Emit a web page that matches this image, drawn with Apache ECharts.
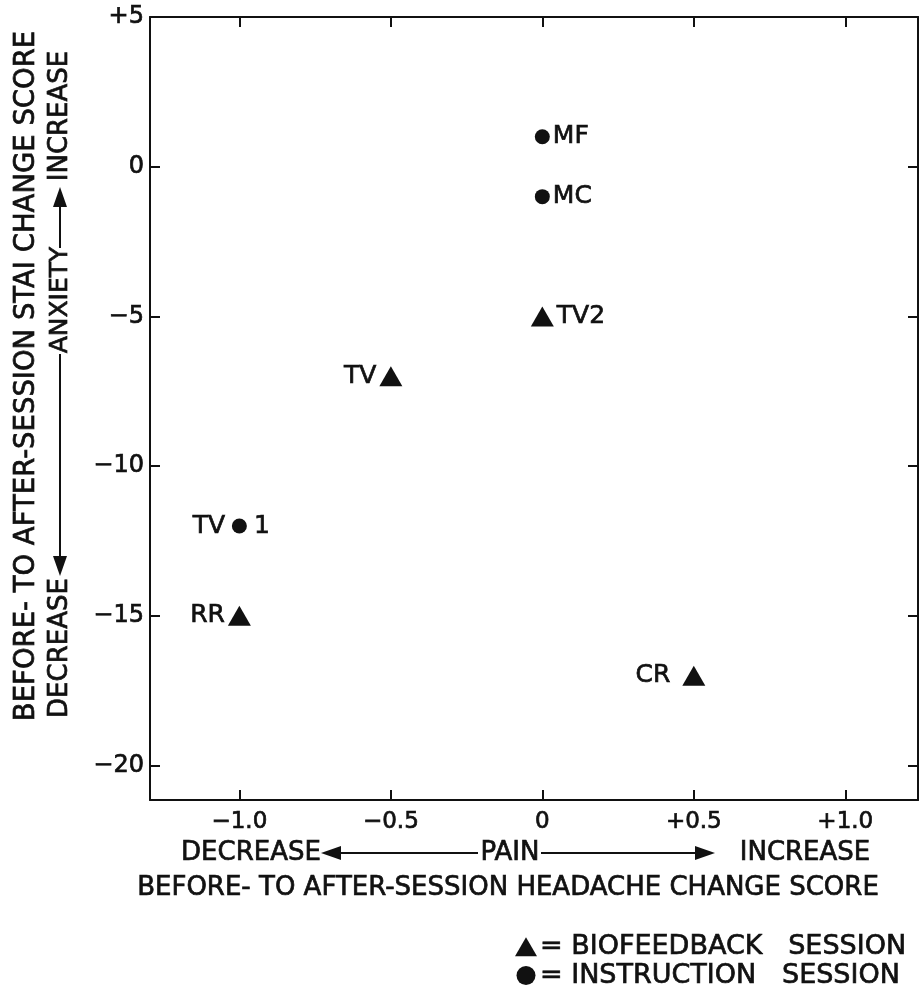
<!DOCTYPE html>
<html>
<head>
<meta charset="utf-8">
<script src="https://cdn.jsdelivr.net/npm/echarts@6/dist/echarts.min.js"></script>
<style>
html,body{margin:0;padding:0;background:#fff;}
#chart{width:922px;height:995px;}
</style>
</head>
<body>
<div id="chart"></div>
<script>
// ---- data ----
const xTickValues = [-1, -0.5, 0, 0.5, 1];
const xTickLabels = ['\u22121.0', '\u22120.5', '0', '+0.5', '+1.0'];
const yTickValues = [5, 0, -5, -10, -15, -20];
const yTickLabels = ['+5', '0', '\u22125', '\u221210', '\u221215', '\u221220'];

const biofeedbackNames = ['TV2', 'TV', 'RR', 'CR'];
const biofeedbackPain = [0, -0.5, -1, 0.5];
const biofeedbackAnxiety = [-5, -7, -15, -17];

const instructionNames = ['MF', 'MC', 'TV1'];
const instructionPain = [0, 0, -1];
const instructionAnxiety = [1, -1, -12];

// ---- styling ----
const FONT = 'DejaVu Sans';
const INK = '#111';
const BW = 0.7; // text thickening
const labelPos = {TV2: 'right', TV: 'left', RR: 'left', CR: 'left', MF: 'right', MC: 'right'};
const baseLabel = {fontFamily: FONT, fontSize: 25, color: INK, textBorderColor: INK, textBorderWidth: BW};

function pointLabel(name) {
  if (name === 'TV1') {
    return Object.assign({}, baseLabel, {show: true, position: 'inside', formatter: '{a|TV}{g|}{b|1}', offset: [-8, 0],
      rich: {a: baseLabel, g: {width: 29}, b: baseLabel}});
  }
  const p = labelPos[name];
  return Object.assign({}, baseLabel, {show: true, position: p, distance: name === 'CR' ? 12 : 3, formatter: name});
}

function buildData(names, xs, ys) {
  return names.map((n, i) => ({name: n, value: [xs[i], ys[i]], label: pointLabel(n)}));
}

function fmt(values, labels) {
  return v => { const i = values.findIndex(t => Math.abs(t - v) < 1e-9); return i >= 0 ? labels[i] : ''; };
}

const axisLineStyle = {color: INK, width: 2};
const chart = echarts.init(document.getElementById('chart'), null, {renderer: 'canvas'});

const g = [];
function txt(x, y, s, size, rot) {
  g.push({type: 'text', x: x, y: y, rotation: rot || 0,
    style: {text: s, font: size + 'px "' + FONT + '"', fill: INK, stroke: INK, lineWidth: BW, align: 'center', verticalAlign: 'middle'}});
}
function line(x1, y1, x2, y2) {
  g.push({type: 'line', shape: {x1, y1, x2, y2}, style: {stroke: INK, lineWidth: 2}});
}
function head(pts) {
  g.push({type: 'polygon', shape: {points: pts}, style: {fill: INK}});
}
// y-axis titles (rotated, reading bottom to top)
txt(27, 376, 'BEFORE- TO AFTER-SESSION STAI CHANGE SCORE', 27.5, Math.PI / 2);
txt(60, 116, 'INCREASE', 26, Math.PI / 2);
txt(60, 300, 'ANXIETY', 25, Math.PI / 2);
txt(60, 648, 'DECREASE', 26, Math.PI / 2);
line(60, 205, 60, 248);
head([[60, 187], [53, 207], [67, 207]]);
line(60, 354, 60, 558);
head([[60, 576], [53, 556], [67, 556]]);
// x-axis titles
txt(251, 853, 'DECREASE', 26);
line(336, 853, 478, 853);
head([[321, 853], [341, 846], [341, 860]]);
txt(510, 853, 'PAIN', 26);
line(541, 853, 700, 853);
head([[715, 853], [695, 846], [695, 860]]);
txt(805, 853, 'INCREASE', 26);
txt(508, 888, 'BEFORE- TO AFTER-SESSION HEADACHE CHANGE SCORE', 26);

const tickLabel = {fontFamily: FONT, color: INK, textBorderColor: INK, textBorderWidth: BW};

const option = {
  backgroundColor: '#fff',
  animation: false,
  textStyle: {fontFamily: FONT, color: INK},
  grid: {left: 150, top: 17, right: 4, bottom: 195, containLabel: false},
  legend: {
    orient: 'vertical', left: 515, top: 933, height: 62, padding: 0, itemGap: 1, itemWidth: 22, itemHeight: 19,
    textStyle: {fontFamily: FONT, fontSize: 27, color: INK, textBorderColor: INK, textBorderWidth: BW, padding: [0, 0, 0, -2]},
    data: [
      {name: 'BIOFEEDBACK SESSION', icon: 'triangle'},
      {name: 'INSTRUCTION SESSION', icon: 'circle'}
    ],
    formatter: n => '= ' + n.replace(' ', '   ')
  },
  xAxis: [
    {type: 'value', min: -1.295, max: 1.24, position: 'bottom',
      axisLine: {show: true, onZero: false, lineStyle: axisLineStyle},
      axisTick: {show: true, inside: true, length: 10, customValues: xTickValues, lineStyle: axisLineStyle},
      axisLabel: Object.assign({show: true, customValues: xTickValues, formatter: fmt(xTickValues, xTickLabels), fontSize: 23, margin: 11}, tickLabel),
      splitLine: {show: false}},
    {type: 'value', min: -1.295, max: 1.24, position: 'top',
      axisLine: {show: true, onZero: false, lineStyle: axisLineStyle},
      axisTick: {show: true, inside: true, length: 10, customValues: xTickValues, lineStyle: axisLineStyle},
      axisLabel: {show: false}, splitLine: {show: false}}
  ],
  yAxis: [
    {type: 'value', min: -21.15, max: 5, position: 'left',
      axisLine: {show: true, onZero: false, lineStyle: axisLineStyle},
      axisTick: {show: true, inside: true, length: 10, customValues: yTickValues, lineStyle: axisLineStyle},
      axisLabel: Object.assign({show: true, customValues: yTickValues, formatter: fmt(yTickValues, yTickLabels), fontSize: 24, margin: 6}, tickLabel),
      splitLine: {show: false}},
    {type: 'value', min: -21.15, max: 5, position: 'right',
      axisLine: {show: true, onZero: false, lineStyle: axisLineStyle},
      axisTick: {show: true, inside: true, length: 10, customValues: yTickValues, lineStyle: axisLineStyle},
      axisLabel: {show: false}, splitLine: {show: false}}
  ],
  series: [
    {name: 'BIOFEEDBACK SESSION', type: 'scatter', symbol: 'triangle', symbolSize: [23, 20],
      itemStyle: {color: INK, opacity: 1},
      data: buildData(biofeedbackNames, biofeedbackPain, biofeedbackAnxiety)},
    {name: 'INSTRUCTION SESSION', type: 'scatter', symbol: 'circle', symbolSize: 15,
      itemStyle: {color: INK, opacity: 1},
      data: buildData(instructionNames, instructionPain, instructionAnxiety)}
  ],
  graphic: g
};
chart.setOption(option);
</script>
</body>
</html>
